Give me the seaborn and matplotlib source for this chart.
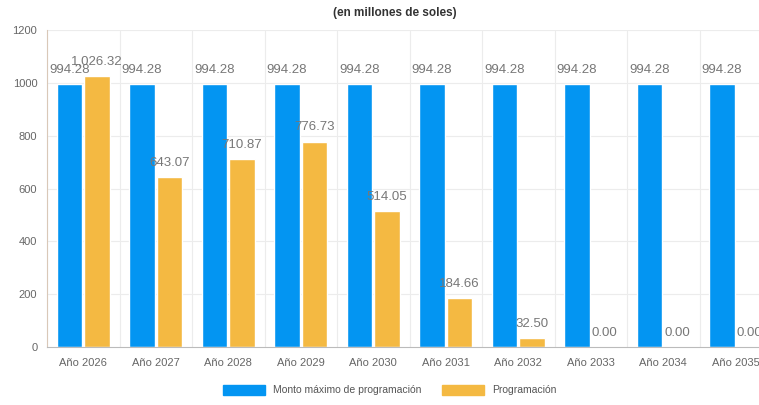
import pandas as pd
import numpy as np
import matplotlib
matplotlib.use("Agg")
import matplotlib.pyplot as plt
import seaborn as sns

# data
years = ["Año 2026", "Año 2027", "Año 2028", "Año 2029", "Año 2030",
         "Año 2031", "Año 2032", "Año 2033", "Año 2034", "Año 2035"]
monto_maximo = [994.28, 994.28, 994.28, 994.28, 994.28,
                994.28, 994.28, 994.28, 994.28, 994.28]
programacion = [1026.32, 643.07, 710.87, 776.73, 514.05,
                184.66, 32.50, 0.00, 0.00, 0.00]
series_names = ["Monto máximo de programación", "Programación"]
yticks = [0, 200, 400, 600, 800, 1000, 1200]

df = pd.DataFrame({
    "year": years * 2,
    "value": monto_maximo + programacion,
    "serie": [series_names[0]] * len(years) + [series_names[1]] * len(years),
})

sns.set_theme(style="white")
plt.rcParams["font.family"] = ["Liberation Sans", "DejaVu Sans"]

colors = {series_names[0]: "#0395F2", series_names[1]: "#F4B942"}

fig = plt.figure(figsize=(7.59, 4.05), dpi=100)
ax = fig.add_axes([47 / 759, 1 - 347 / 405, 725 / 759, 317 / 405])

sns.barplot(data=df, x="year", y="value", hue="serie", palette=colors,
            width=0.76, gap=0.08, ax=ax, legend=True, saturation=1)

ax.set_ylim(0, 1200)
ax.set_xlim(-0.5, len(years) - 0.5)
ax.set_yticks(yticks)
ax.set_xlabel("")
ax.set_ylabel("")

# grid
for y in yticks[1:]:
    ax.axhline(y, color="#ececec", lw=0.8, zorder=0)
for i in range(len(years) + 1):
    ax.axvline(i - 0.5, color="#ececec", lw=0.8, zorder=0)
ax.set_axisbelow(True)

for s in ["top", "right"]:
    ax.spines[s].set_visible(False)
ax.spines["left"].set_color("#d9c8b8")
ax.spines["left"].set_linewidth(0.8)
ax.spines["bottom"].set_color("#bbbbbb")
ax.spines["bottom"].set_linewidth(0.8)

ax.tick_params(axis="y", labelsize=8, colors="#666666", length=4, width=0.6, pad=3)
ax.tick_params(axis="y", color="#bbbbbb")
ax.set_xticks(range(len(years)))
ax.set_xticklabels(years, fontsize=8, color="#666666")
ax.tick_params(axis="x", length=0, pad=8)
# ticks at category boundaries
ax.set_xticks([i - 0.5 for i in range(len(years) + 1)], minor=True)
ax.tick_params(axis="x", which="minor", length=5, width=0.6, color="#bbbbbb")

# value labels
for cont in ax.containers:
    for bar in cont:
        h = bar.get_height()
        ax.annotate(f"{h:,.2f}", (bar.get_x() + bar.get_width() / 2, h),
                    xytext=(0, 6), textcoords="offset points",
                    ha="center", va="bottom", fontsize=9.5, color="#777777",
                    annotation_clip=False)

ax.legend_.remove()
handles = [plt.Rectangle((0, 0), 1, 1, color=colors[n]) for n in series_names]
fig.legend(handles, series_names, loc="center", bbox_to_anchor=(390 / 759, 1 - 390 / 405),
           ncol=2, frameon=False, fontsize=7.5, handlelength=4.0, handleheight=1.1,
           columnspacing=2.0, labelcolor="#555555")

fig.text(395 / 759, 1 - 13 / 405, "(en millones de soles)", ha="center", va="center",
         fontsize=8.5, fontweight="bold", color="#333333")

fig.savefig("out.png", dpi=100)
